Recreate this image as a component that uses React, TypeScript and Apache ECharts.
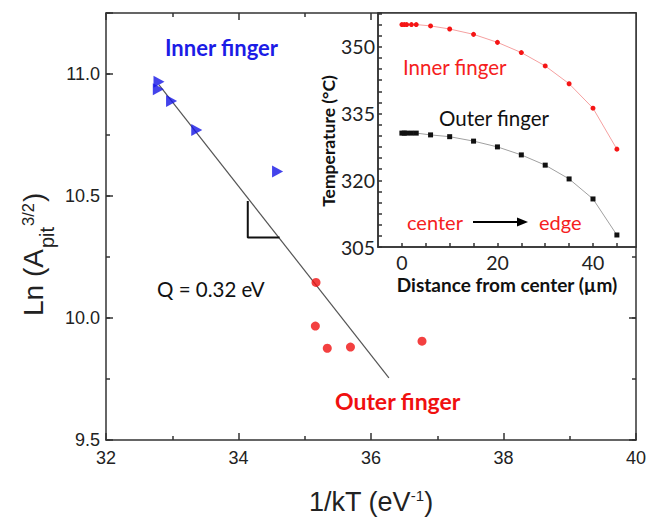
import React, { useEffect, useRef } from 'react';
import * as echarts from 'echarts';

// ---- Main plot data: Ln(A_pit^{3/2}) vs 1/kT ----
const innerInvKT = [32.8, 32.79, 32.99, 33.37, 34.59];
const innerLnA = [10.968, 10.937, 10.889, 10.77, 10.6];
const outerInvKT = [35.17, 35.16, 35.34, 35.69, 36.77];
const outerLnA = [10.146, 9.967, 9.876, 9.881, 9.905];
const fitInvKT = [32.8, 36.27];
const fitLnA = [10.955, 9.755];
const slopeInvKT = [34.14, 34.14, 34.62];
const slopeLnA = [10.48, 10.33, 10.33];

// ---- Inset data: temperature vs distance from center ----
const distInner = [0, 0.5, 1, 2, 3, 6, 10, 15, 20, 25, 30, 35, 40, 45];
const tempInner = [355.0, 355.0, 355.0, 355.0, 355.0, 354.7, 354.0, 352.8, 351.0, 348.7, 345.7, 341.7, 336.2, 327.0];
const distOuter = [0, 0.5, 1, 2, 3, 6, 10, 15, 20, 25, 30, 35, 40, 45];
const tempOuter = [330.6, 330.6, 330.6, 330.6, 330.6, 330.2, 329.8, 328.8, 327.5, 325.7, 323.4, 320.3, 315.8, 307.7];

// ---- Tick labels ----
const mainXTickLabels = [32, 34, 36, 38, 40];
const mainYTickLabels = [9.5, 10.0, 10.5, 11.0];
const insetXTickLabels = [0, 20, 40];
const insetYTickLabels = [305, 320, 335, 350];

const ARIAL = 'Liberation Sans, Arial, sans-serif';
const CAL = 'Lato, Open Sans, sans-serif';
const AX = '#333';

const has = (arr: number[], v: number) => arr.some((a) => Math.abs(a - v) < 1e-6);

function measure(text: string, font: string): number {
  const c = document.createElement('canvas').getContext('2d');
  if (!c) return text.length * 10;
  c.font = font;
  return c.measureText(text).width;
}

export default function App() {
  const ref = useRef<HTMLDivElement>(null);

  useEffect(() => {
    if (!ref.current) return;
    const chart = echarts.init(ref.current, undefined, { renderer: 'svg' });

    const lineStyle = { color: AX, width: 1.5 };

    const mainX = (pos: 'bottom' | 'top', labels: boolean) => ({
      gridIndex: 0,
      type: 'value',
      min: 32,
      max: 40,
      interval: 2,
      position: pos,
      axisLine: { show: true, onZero: false, lineStyle },
      axisTick: { show: true, inside: true, length: 7, lineStyle },
      minorTick: { show: true, splitNumber: 2, length: 4, lineStyle },
      splitLine: { show: false },
      minorSplitLine: { show: false },
      axisLabel: {
        show: labels,
        fontSize: 18,
        fontFamily: ARIAL,
        color: '#222',
        margin: 9,
        formatter: (v: number) => (has(mainXTickLabels, v) ? String(v) : ''),
      },
    });

    const mainY = (pos: 'left' | 'right', major: boolean, labels: boolean) => ({
      gridIndex: 0,
      type: 'value',
      min: 9.5,
      max: 11.25,
      interval: major ? 0.5 : 0.25,
      position: pos,
      axisLine: { show: major, onZero: false, lineStyle },
      axisTick: { show: true, inside: true, length: major ? 7 : 4, lineStyle },
      splitLine: { show: false },
      axisLabel: {
        show: labels,
        fontSize: 18,
        fontFamily: ARIAL,
        color: '#222',
        margin: 6,
        formatter: (v: number) => (has(mainYTickLabels, v) ? v.toFixed(1) : ''),
      },
    });

    // y-axis title measurements (rotated group)
    const f1 = `28px ${ARIAL}`;
    const f2 = `20px ${ARIAL}`;
    const f3 = `16.5px ${ARIAL}`;
    const w1 = measure('Ln (A', f1);
    const wp = measure('pit', f2);
    const w3 = measure('3/2', f3);

    const txt = (text: string, x: number, y: number, size: number, color: string, weight = 'normal', family = CAL, z = 3) => ({
      type: 'text',
      x,
      y,
      z,
      style: {
        text,
        fontSize: size,
        fontFamily: family,
        fontWeight: weight,
        fill: color,
        textAlign: 'left',
        textVerticalAlign: 'middle',
      },
    });

    const option: any = {
      animation: false,
      backgroundColor: '#fff',
      grid: [
        { left: 106, top: 13, right: 11, bottom: 77, show: false, containLabel: false, outerBoundsMode: 'none' },
        {
          left: 378,
          top: 13,
          right: 11,
          bottom: 270,
          show: true,
          containLabel: false,
          outerBoundsMode: 'none',
          backgroundColor: '#fff',
          borderColor: AX,
          borderWidth: 1.5,
          z: 5,
        },
      ],
      xAxis: [
        {
          ...mainX('bottom', true),
          name: '1/kT (eV{sup|-1})',
          nameLocation: 'middle',
          nameGap: 48,
          nameTextStyle: {
            fontSize: 27,
            fontFamily: ARIAL,
            color: '#222',
            rich: {
              sup: { fontSize: 15, fontFamily: ARIAL, color: '#222', padding: [0, 0, 12, 0] },
            },
          },
        },
        mainX('top', false),
        {
          gridIndex: 1,
          type: 'value',
          min: -5,
          max: 49,
          interval: 5,
          position: 'bottom',
          z: 6,
          axisLine: { show: true, onZero: false, lineStyle },
          axisTick: { show: true, inside: true, length: 4, lineStyle },
          splitLine: { show: false },
          axisLabel: {
            fontSize: 19.5,
            fontFamily: CAL,
            color: '#222',
            margin: 5,
            showMinLabel: false,
            showMaxLabel: false,
            formatter: (v: number) => (has(insetXTickLabels, v) ? String(v) : ''),
          },
          name: 'Distance from center (µm)',
          nameLocation: 'middle',
          nameGap: 28,
          nameTextStyle: { fontSize: 19, fontWeight: 'bold', fontFamily: CAL, color: '#111' },
        },
      ],
      yAxis: [
        mainY('left', true, true),
        mainY('left', false, false),
        mainY('right', true, false),
        mainY('right', false, false),
        {
          gridIndex: 1,
          type: 'value',
          min: 305,
          max: 357.6,
          interval: 2.5,
          position: 'left',
          z: 6,
          axisLine: { show: true, onZero: false, lineStyle },
          axisTick: { show: true, inside: true, length: 4, lineStyle },
          splitLine: { show: false },
          axisLabel: {
            fontSize: 19.5,
            fontFamily: CAL,
            color: '#222',
            margin: 3,
            formatter: (v: number) => (has(insetYTickLabels, v) ? String(v) : ''),
          },
        },
      ],
      series: [
        {
          type: 'line',
          xAxisIndex: 0,
          yAxisIndex: 0,
          data: fitInvKT.map((x, i) => [x, fitLnA[i]]),
          showSymbol: false,
          lineStyle: { color: '#555', width: 1.2 },
          z: 2,
        },
        {
          type: 'line',
          xAxisIndex: 0,
          yAxisIndex: 0,
          data: slopeInvKT.map((x, i) => [x, slopeLnA[i]]),
          showSymbol: false,
          lineStyle: { color: '#111', width: 2 },
          z: 2,
        },
        {
          type: 'scatter',
          xAxisIndex: 0,
          yAxisIndex: 0,
          data: innerInvKT.map((x, i) => [x, innerLnA[i]]),
          symbol: 'triangle',
          symbolRotate: -90,
          symbolSize: [12, 11],
          itemStyle: { color: '#1414e6' },
          z: 3,
        },
        {
          type: 'scatter',
          xAxisIndex: 0,
          yAxisIndex: 0,
          data: outerInvKT.map((x, i) => [x, outerLnA[i]]),
          symbol: 'circle',
          symbolSize: 9,
          itemStyle: { color: '#f01010' },
          z: 3,
        },
        {
          type: 'line',
          xAxisIndex: 2,
          yAxisIndex: 4,
          data: distInner.map((x, i) => [x, tempInner[i]]),
          symbol: 'circle',
          symbolSize: 5,
          showSymbol: true,
          itemStyle: { color: '#f51515' },
          lineStyle: { color: '#f5a0a0', width: 1 },
          z: 7,
        },
        {
          type: 'line',
          xAxisIndex: 2,
          yAxisIndex: 4,
          data: distOuter.map((x, i) => [x, tempOuter[i]]),
          symbol: 'rect',
          symbolSize: 5,
          showSymbol: true,
          itemStyle: { color: '#111' },
          lineStyle: { color: '#a0a0a0', width: 1 },
          z: 7,
        },
      ],
      graphic: [
        txt('Inner finger', 165, 47, 22, '#1c1ce6', 'bold'),
        txt('Q = 0.32 eV', 157, 289, 20.5, '#111'),
        txt('Outer finger', 335, 401, 23, '#f01010', 'bold'),
        txt('Inner finger', 403, 67, 20.5, '#f52020', 'normal', CAL, 10),
        txt('Outer finger', 439, 118, 20.5, '#111', 'normal', CAL, 10),
        txt('center', 407, 222, 20, '#f52020', 'normal', CAL, 10),
        txt('edge', 539, 222, 20, '#f52020', 'normal', CAL, 10),
        {
          type: 'line',
          z: 10,
          shape: { x1: 473, y1: 222, x2: 519, y2: 222 },
          style: { stroke: '#000', lineWidth: 2 },
        },
        {
          type: 'polygon',
          z: 10,
          shape: { points: [[528, 222], [517, 217.5], [517, 226.5]] },
          style: { fill: '#000' },
        },
        {
          type: 'text',
          x: 328,
          y: 141,
          z: 10,
          rotation: Math.PI / 2,
          style: {
            text: 'Temperature (°C)',
            fontSize: 17.5,
            fontWeight: 'bold',
            fontFamily: CAL,
            fill: '#111',
            textAlign: 'center',
            textVerticalAlign: 'middle',
          },
        },
        {
          type: 'group',
          x: 33,
          y: 316,
          rotation: Math.PI / 2,
          children: [
            txt('Ln (A', 0, 0, 28, '#222', 'normal', ARIAL),
            txt('pit', w1 + 1, 14, 20, '#222', 'normal', ARIAL),
            txt('3/2', w1 + wp + 2, -5, 16.5, '#222', 'normal', ARIAL),
            txt(')', w1 + wp + w3 + 3, 0, 28, '#222', 'normal', ARIAL),
          ],
        },
      ],
    };

    chart.setOption(option);
    return () => chart.dispose();
  }, []);

  return (
    <div
      ref={ref}
      style={{ position: 'absolute', left: 0, top: 0, width: 647, height: 517, background: '#fff' }}
    />
  );
}
